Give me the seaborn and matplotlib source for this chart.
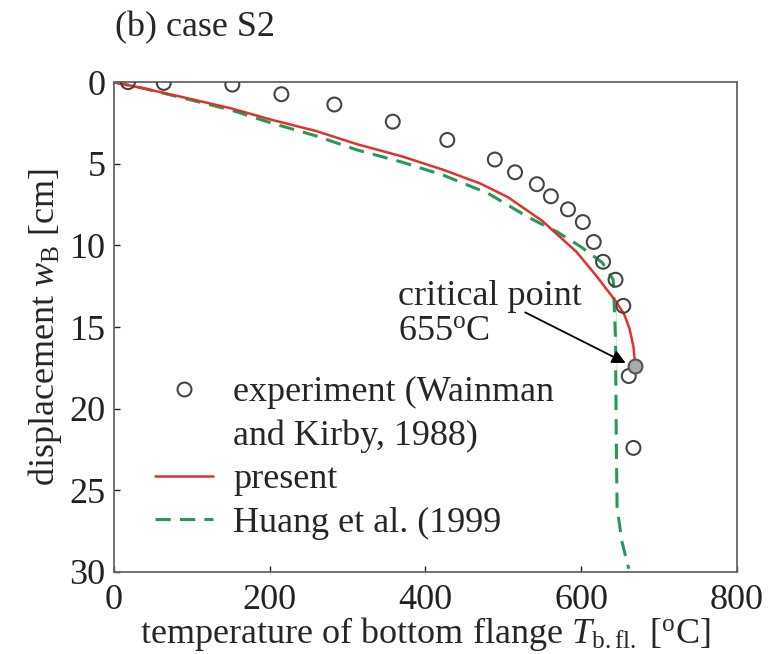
import numpy as np
import pandas as pd
import matplotlib
matplotlib.use('Agg')
import matplotlib.pyplot as plt
import seaborn as sns
from matplotlib.lines import Line2D

# experiment (Wainman and Kirby, 1988)
exp_T = [18, 64, 152, 215, 283, 358, 428, 489, 515, 543, 561, 583, 602, 616, 628, 644, 654, 661, 667]
exp_w = [0.0, 0.05, 0.15, 0.74, 1.37, 2.42, 3.54, 4.74, 5.52, 6.25, 6.99, 7.79, 8.57, 9.79, 11.0, 12.1, 13.7, 18.0, 22.4]

# critical point
crit_T = [669]
crit_w = [17.4]

# present model
pres_T = [0, 40, 91, 150, 202, 260, 312, 370, 423, 470, 506, 550, 594, 620, 644, 655, 662, 667, 669]
pres_w = [0.0, 0.4, 0.95, 1.6, 2.3, 3.0, 3.8, 4.55, 5.37, 6.2, 7.05, 8.5, 10.4, 11.9, 13.4, 14.2, 15.1, 16.2, 17.2]

# Huang et al. (1999)
huang_T = [0, 40, 91, 150, 202, 260, 312, 370, 423, 480, 533, 570, 600, 627, 641, 644, 644, 645, 646, 652, 661]
huang_w = [0.0, 0.4, 1.0, 1.7, 2.5, 3.3, 4.15, 4.9, 5.7, 6.8, 8.3, 9.2, 10.1, 11.05, 12.1, 13.8, 17.6, 22.0, 26.0, 28.1, 29.8]

sns.set_style('ticks')
plt.rcParams['font.family'] = ['Liberation Serif', 'DejaVu Serif']
plt.rcParams['mathtext.fontset'] = 'custom'
plt.rcParams['mathtext.rm'] = 'Liberation Serif'
plt.rcParams['mathtext.it'] = 'Liberation Serif:italic'

FS = 26
RED = '#e2312c'
GREEN = '#239b56'

fig = plt.figure(figsize=(7.75, 6.54), dpi=100)
ax = fig.add_axes([0.147, 0.1254, 0.804, 0.749])

df_exp = pd.DataFrame({'T': exp_T, 'w': exp_w})
df_pres = pd.DataFrame({'T': pres_T, 'w': pres_w})
df_huang = pd.DataFrame({'T': huang_T, 'w': huang_w})
df_crit = pd.DataFrame({'T': crit_T, 'w': crit_w})

sns.lineplot(data=df_huang, x='T', y='w', sort=False, ax=ax, color=GREEN,
             linestyle=(0, (5, 3)), linewidth=2.2)
sns.lineplot(data=df_pres, x='T', y='w', sort=False, ax=ax, color=RED, linewidth=1.8)
sns.scatterplot(data=df_exp, x='T', y='w', ax=ax, marker='o', s=100,
                facecolor='none', edgecolor='#444444', linewidth=1.5, zorder=5)
sns.scatterplot(data=df_crit, x='T', y='w', ax=ax, marker='o', s=100,
                color='#aaaaaa', edgecolor='#555555', linewidth=1.5, zorder=6)

ax.set_xlim(0, 800)
ax.set_ylim(30, 0)
ax.set_xticks([0, 200, 400, 600, 800])
ax.set_yticks([0, 5, 10, 15, 20, 25, 30])
ax.tick_params(direction='in', length=4, labelsize=FS, width=1, colors='#222222', pad=6)
ax.tick_params(axis='x', pad=9)
for s in ax.spines.values():
    s.set_color('#666666')
    s.set_linewidth(1.3)

ax.set_xlabel(r'temperature of bottom flange $T_{\mathrm{b.fl.}}$ [$^{\mathrm{o}}$C]', fontsize=FS, labelpad=-2)
ax.set_ylabel(r'displacement $w_{\mathrm{B}}$ [cm]', fontsize=FS, labelpad=4)
fig.text(0.148, 0.958, '(b) case S2', fontsize=FS, ha='left', va='center')

# critical point note and arrow
ax.text(365, 14.2, 'critical point\n' + r'655$^{\mathrm{o}}$C', fontsize=FS,
        ha='left', va='center', linespacing=1.05)
ax.annotate('', xy=(657, 17.2), xytext=(528, 14.1),
            arrowprops=dict(arrowstyle='-|>', color='black', lw=1.3, mutation_scale=20,
                            shrinkA=0, shrinkB=0))

handles = [
    Line2D([], [], marker='o', linestyle='none', markersize=10, markerfacecolor='none',
           markeredgecolor='#444444', markeredgewidth=1.5),
    Line2D([], [], linestyle='none'),
    Line2D([], [], color=RED, linewidth=1.8),
    Line2D([], [], color=GREEN, linestyle=(0, (5, 3)), linewidth=2.2),
]
labels = ['experiment (Wainman', 'and Kirby, 1988)', 'present', 'Huang et al. (1999']
ax.legend(handles, labels, loc='upper left', bbox_to_anchor=(0.066, 0.40), frameon=False,
          fontsize=FS, handlelength=1.6, handletextpad=0.56, labelspacing=0.28,
          borderaxespad=0, borderpad=0)

fig.savefig('out.png', dpi=100)
